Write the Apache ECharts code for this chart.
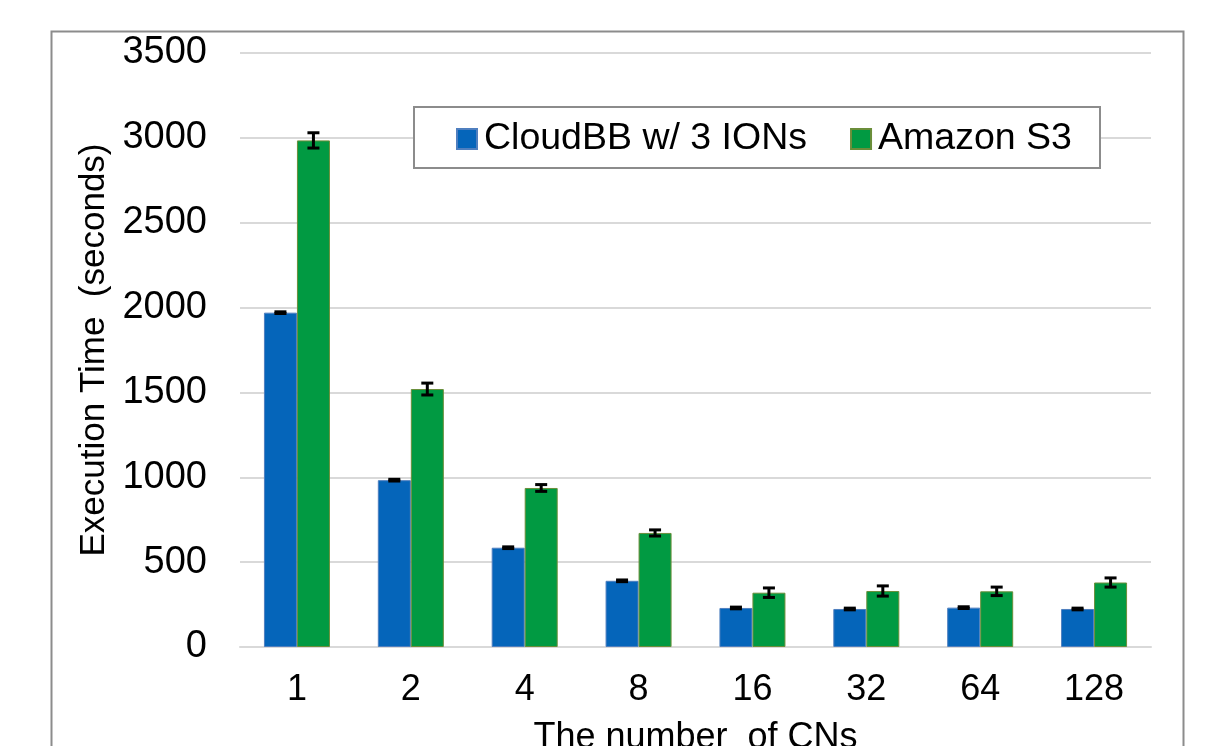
<!DOCTYPE html>
<html>
<head>
<meta charset="utf-8">
<script src="https://cdn.jsdelivr.net/npm/echarts@6/dist/echarts.min.js"></script>
<style>
html,body{margin:0;padding:0;background:#fff;}
#c{width:1209px;height:746px;}
</style>
</head>
<body>
<div id="c"></div>
<script>
const categories = ['1','2','4','8','16','32','64','128'];
const cloudbb = [1970, 983, 585, 390, 230, 224, 232, 224];
const cloudbbErr = [5, 5, 5, 5, 5, 5, 5, 5];
const s3 = [2985, 1520, 937, 672, 320, 330, 328, 380];
const s3Err = [45, 35, 20, 18, 28, 30, 25, 27];
const yTicks = [0, 500, 1000, 1500, 2000, 2500, 3000, 3500];

const BAR_W = 33;
const FS = 36;
const FONT = '"Liberation Sans", Arial, sans-serif';

function errSeries(vals, errs, offset) {
  return {
    type: 'custom',
    silent: true,
    z: 10,
    data: vals.map((v, i) => [i, v, errs[i]]),
    renderItem: function (params, api) {
      const i = api.value(0), v = api.value(1), e = api.value(2);
      const hi = api.coord([i, v + e]);
      const lo = api.coord([i, v - e]);
      const x = hi[0] + offset;
      const cap = 6;
      const st = { stroke: '#000', lineWidth: 3 };
      return {
        type: 'group',
        children: [
          { type: 'line', shape: { x1: x, y1: hi[1], x2: x, y2: lo[1] }, style: st },
          { type: 'line', shape: { x1: x - cap, y1: hi[1], x2: x + cap, y2: hi[1] }, style: st },
          { type: 'line', shape: { x1: x - cap, y1: lo[1], x2: x + cap, y2: lo[1] }, style: st }
        ]
      };
    }
  };
}

const chart = echarts.init(document.getElementById('c'));
chart.setOption({
  animation: false,
  backgroundColor: '#fff',
  textStyle: { fontFamily: FONT },
  graphic: [
    { type: 'rect', left: 49, top: 29, shape: { width: 1132, height: 800 }, style: { fill: 'none', stroke: '#8c8c8c', lineWidth: 2 }, z: -1 },
    { type: 'rect', left: 413, top: 106, shape: { width: 686, height: 61 }, style: { fill: '#fff', stroke: '#8c8c8c', lineWidth: 2 }, z: 50 }
  ],
  legend: {
    left: 456, top: 120,
    padding: 0,
    itemWidth: 20, itemHeight: 20, itemGap: 43,
    icon: 'rect',
    z: 60,
    textStyle: { fontSize: 37.5, color: '#000', fontFamily: FONT, padding: [0, 0, 0, 2] },
    data: ['CloudBB w/ 3 IONs', 'Amazon S3']
  },
  grid: { left: 240, right: 58, top: 53, bottom: 99, outerBoundsMode: 'none', containLabel: false },
  xAxis: {
    type: 'category',
    data: categories,
    axisLine: { lineStyle: { color: '#d9d9d9', width: 2 } },
    axisTick: { show: false },
    axisLabel: { fontSize: FS, color: '#000', margin: 25, fontFamily: FONT },
    name: 'The number  of CNs',
    nameLocation: 'middle',
    nameGap: 73,
    nameTextStyle: { fontSize: FS, color: '#000', fontFamily: FONT }
  },
  yAxis: {
    type: 'value',
    min: 0, max: 3500, interval: 500,
    axisLine: { show: false },
    axisTick: { show: false },
    splitLine: { lineStyle: { color: '#d9d9d9', width: 2 } },
    axisLabel: { fontSize: 38, color: '#000', margin: 33, fontFamily: FONT,
      formatter: v => yTicks.includes(v) ? String(v) : '' },
    name: 'Execution Time  (seconds)',
    nameLocation: 'middle',
    nameGap: 123,
    nameTextStyle: { fontSize: 35, color: '#000', fontFamily: FONT }
  },
  series: [
    {
      name: 'CloudBB w/ 3 IONs', type: 'bar', data: cloudbb,
      barWidth: BAR_W, barGap: '0%',
      itemStyle: { color: '#0565BA', borderColor: '#4f7fbf', borderWidth: 1 }
    },
    {
      name: 'Amazon S3', type: 'bar', data: s3,
      barWidth: BAR_W, barGap: '0%',
      itemStyle: { color: '#019A42', borderColor: '#6b8e3a', borderWidth: 1 }
    },
    errSeries(cloudbb, cloudbbErr, -BAR_W / 2),
    errSeries(s3, s3Err, BAR_W / 2)
  ]
});
</script>
</body>
</html>
